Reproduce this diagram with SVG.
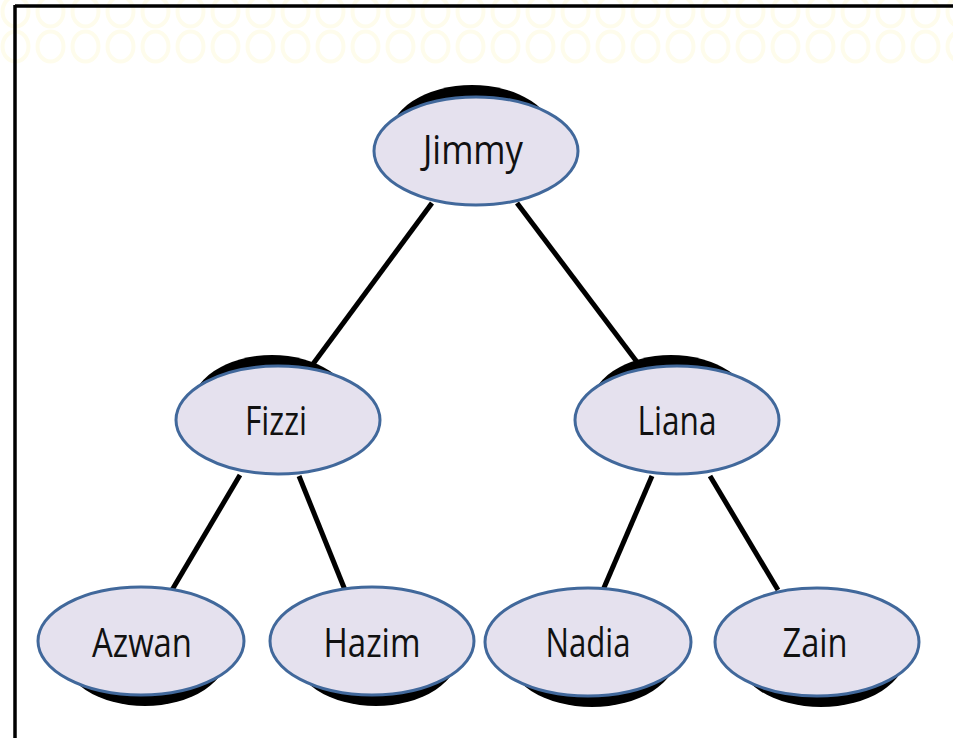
<svg xmlns="http://www.w3.org/2000/svg" width="953" height="738" viewBox="0 0 953 738">
  <defs>
    <style>
      .shadow { fill: #000000; }
      .node { fill: #e5e1ee; stroke: #41689b; stroke-width: 3; }
      .label { font-family: "Open Sans", "Liberation Sans", sans-serif; font-size: 40px; fill: #111111; text-anchor: middle; }
      .edge { stroke: #000000; stroke-width: 5; stroke-linecap: butt; fill: none; }
      .pat { fill: none; stroke: #fefcec; stroke-width: 4; }
    </style>
    <pattern id="rings" x="-2" y="-6" width="35" height="35" patternUnits="userSpaceOnUse">
      <ellipse class="pat" cx="17.5" cy="17.5" rx="13" ry="15"/>
    </pattern>
  </defs>

  <!-- page background with faint ring texture along the top -->
  <rect x="0" y="0" width="953" height="738" fill="#ffffff"/>
  <rect x="0" y="-6" width="953" height="70" fill="url(#rings)"/>

  <!-- page frame -->
  <g id="frame">
    <line x1="15" y1="6" x2="953" y2="6" stroke="#000" stroke-width="3.5"/>
    <line x1="15" y1="5" x2="15" y2="738" stroke="#000" stroke-width="3.5"/>
  </g>

  <!-- connectors -->
  <g id="edges">
    <line class="edge" x1="432" y1="203" x2="313" y2="364"/>
    <line class="edge" x1="517" y1="203" x2="637" y2="362"/>
    <line class="edge" x1="240" y1="475" x2="172" y2="590"/>
    <line class="edge" x1="299" y1="476" x2="345" y2="590"/>
    <line class="edge" x1="652" y1="476" x2="603" y2="590"/>
    <line class="edge" x1="710" y1="476" x2="778" y2="590"/>
  </g>

  <g id="jimmy">
    <ellipse class="shadow" cx="472" cy="140" rx="84" ry="55"/>
    <ellipse class="node" cx="476" cy="151" rx="102" ry="54"/>
    <text class="label" x="473" y="164" textLength="100" lengthAdjust="spacingAndGlyphs">Jimmy</text>
  </g>

  <g id="fizzi">
    <ellipse class="shadow" cx="272" cy="410" rx="82" ry="55"/>
    <ellipse class="node" cx="278" cy="420" rx="102" ry="54"/>
    <text class="label" x="276" y="435" textLength="62" lengthAdjust="spacingAndGlyphs">Fizzi</text>
  </g>

  <g id="liana">
    <ellipse class="shadow" cx="671" cy="410" rx="82" ry="55"/>
    <ellipse class="node" cx="677" cy="420" rx="102" ry="54"/>
    <text class="label" x="677" y="435" textLength="79" lengthAdjust="spacingAndGlyphs">Liana</text>
  </g>

  <g id="azwan">
    <ellipse class="shadow" cx="145" cy="651" rx="84" ry="55"/>
    <ellipse class="node" cx="141" cy="641" rx="103" ry="54"/>
    <text class="label" x="142" y="657" textLength="100" lengthAdjust="spacingAndGlyphs">Azwan</text>
  </g>

  <g id="hazim">
    <ellipse class="shadow" cx="376" cy="651" rx="84" ry="55"/>
    <ellipse class="node" cx="372" cy="641" rx="102" ry="54"/>
    <text class="label" x="372" y="657" textLength="97" lengthAdjust="spacingAndGlyphs">Hazim</text>
  </g>

  <g id="nadia">
    <ellipse class="shadow" cx="592" cy="652" rx="86" ry="55"/>
    <ellipse class="node" cx="588" cy="642" rx="103" ry="54"/>
    <text class="label" x="588" y="657" textLength="85" lengthAdjust="spacingAndGlyphs">Nadia</text>
  </g>

  <g id="zain">
    <ellipse class="shadow" cx="821" cy="652" rx="86" ry="55"/>
    <ellipse class="node" cx="817" cy="642" rx="102" ry="54"/>
    <text class="label" x="815" y="657" textLength="65" lengthAdjust="spacingAndGlyphs">Zain</text>
  </g>
</svg>
